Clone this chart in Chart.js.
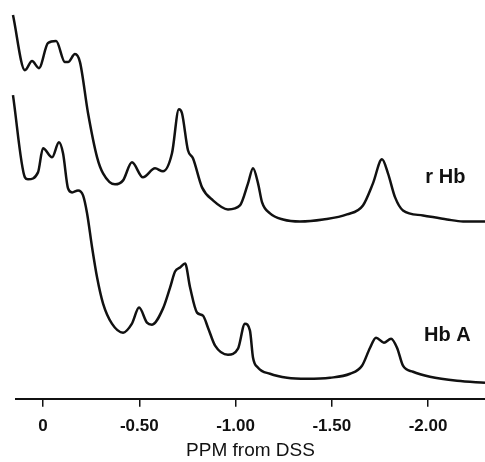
<!DOCTYPE html>
<html>
<head>
<meta charset="utf-8">
<script src="https://cdn.jsdelivr.net/npm/chart.js@4"></script>
<style>
  html, body { margin: 0; padding: 0; background: #fff; }
  #wrap { width: 485px; height: 462px; position: relative; }
</style>
</head>
<body>
<div id="wrap"><canvas id="nmr"></canvas></div>
<script>
// chemical shift (ppm from DSS) and intensity (arbitrary units) for each trace
const rHbPpm = [0.156, 0.094, 0.057, 0.021, -0.026, -0.068, -0.114, -0.130, -0.166, -0.192,
  -0.234, -0.281, -0.312, -0.374, -0.416, -0.462, -0.519, -0.582, -0.623, -0.670,
  -0.706, -0.722, -0.753, -0.779, -0.826, -0.883, -0.961, -1.023, -1.065, -1.091,
  -1.117, -1.138, -1.179, -1.247, -1.335, -1.455, -1.579, -1.662, -1.714, -1.761,
  -1.792, -1.829, -1.870, -1.974, -2.099, -2.182, -2.296];
const rHbIntensity = [383, 328, 337, 330, 355, 357, 336, 336, 344, 336,
  285, 241, 225, 214, 218, 236, 221, 230, 227, 245,
  289, 285, 248, 240, 211, 198, 189, 193, 215, 230,
  215, 196, 185, 179, 177, 179, 184, 193, 215, 239,
  225, 201, 188, 183, 179, 177, 177];

const hbAPpm = [0.156, 0.094, 0.078, 0.026, 0.000, -0.047, -0.083, -0.104, -0.130, -0.151,
  -0.182, -0.208, -0.229, -0.255, -0.281, -0.312, -0.358, -0.416, -0.462, -0.499,
  -0.540, -0.566, -0.623, -0.660, -0.686, -0.712, -0.738, -0.764, -0.800, -0.831,
  -0.857, -0.894, -0.961, -1.013, -1.049, -1.075, -1.091, -1.117, -1.179, -1.268,
  -1.371, -1.491, -1.595, -1.657, -1.699, -1.730, -1.771, -1.808, -1.839, -1.870,
  -1.922, -2.010, -2.151, -2.296];
const hbAIntensity = [303, 221, 219, 226, 250, 241, 256, 245, 210, 206,
  208, 203, 185, 151, 121, 95, 75, 66, 75, 91,
  76, 74, 90, 111, 127, 131, 135, 111, 86, 83,
  71, 53, 44, 50, 75, 68, 41, 31, 25, 21,
  20, 21, 25, 33, 51, 61, 56, 60, 51, 33,
  27, 22, 18, 16];

const xTicks = [0, -0.5, -1.0, -1.5, -2.0];

// trace names and where they sit (ppm, intensity)
const traceNames = ['r Hb', 'Hb A'];
const traceNamePpm = [-2.09, -2.10];
const traceNameIntensity = [221, 63];

const toPoints = (xs, ys) => xs.map((x, i) => ({ x: x, y: ys[i] }));

const traceStyle = {
  borderColor: '#111',
  borderWidth: 2.5,
  pointRadius: 0,
  fill: false,
  cubicInterpolationMode: 'monotone',
  clip: false
};

const traceLabels = {
  id: 'traceLabels',
  afterDatasetsDraw(chart) {
    const ctx = chart.ctx;
    const xs = chart.scales.x, ys = chart.scales.y;
    ctx.save();
    ctx.fillStyle = '#111';
    ctx.font = 'bold 20px "Liberation Sans", Arial, sans-serif';
    ctx.textAlign = 'center';
    ctx.textBaseline = 'middle';
    traceNames.forEach((name, i) => {
      ctx.fillText(name, xs.getPixelForValue(traceNamePpm[i]), ys.getPixelForValue(traceNameIntensity[i]));
    });
    ctx.restore();
  }
};

new Chart(document.getElementById('nmr'), {
  type: 'line',
  data: {
    datasets: [
      Object.assign({ label: traceNames[0], data: toPoints(rHbPpm, rHbIntensity) }, traceStyle),
      Object.assign({ label: traceNames[1], data: toPoints(hbAPpm, hbAIntensity) }, traceStyle)
    ]
  },
  options: {
    responsive: true,
    maintainAspectRatio: false,
    animation: false,
    layout: { padding: { left: 16, right: 0, top: 0, bottom: 0 } },
    plugins: {
      legend: { display: false },
      tooltip: { enabled: false }
    },
    scales: {
      x: {
        type: 'linear',
        reverse: true,
        min: -2.296,
        max: 0.1403,
        afterBuildTicks: (scale) => { scale.ticks = xTicks.map(v => ({ value: v })); },
        border: { display: true, color: '#111', width: 2 },
        grid: { drawOnChartArea: false, drawTicks: true, tickLength: 8, color: '#111', lineWidth: 1.5 },
        ticks: {
          padding: 9,
          color: '#111',
          maxRotation: 0,
          font: { family: '"Liberation Sans", Arial, sans-serif', size: 17, weight: 'bold' },
          callback: (v) => v === 0 ? '0' : v.toFixed(2)
        },
        title: {
          display: true,
          text: 'PPM from DSS',
          color: '#111',
          padding: { top: -6, bottom: 0 },
          font: { family: '"Liberation Sans", Arial, sans-serif', size: 19 }
        }
      },
      y: {
        display: false,
        min: 0,
        max: 398
      }
    }
  },
  plugins: [traceLabels]
});
</script>
</body>
</html>
